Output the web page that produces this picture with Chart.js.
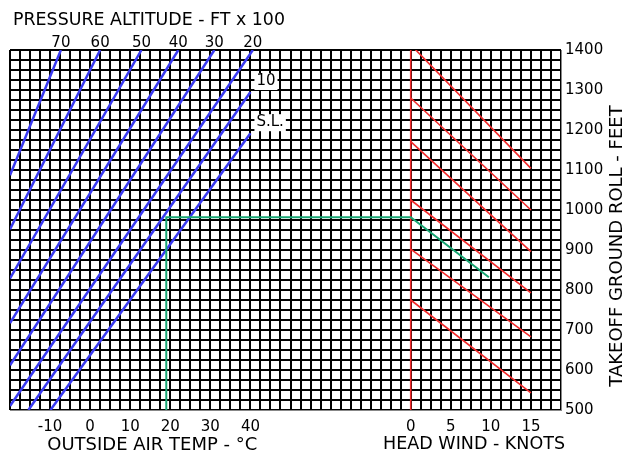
<!DOCTYPE html>
<html>
<head>
<meta charset="utf-8">
<script src="https://cdn.jsdelivr.net/npm/chart.js@4.4.1/dist/chart.umd.min.js"></script>
<style>
  html, body { margin: 0; padding: 0; background: #fff; }
</style>
</head>
<body>
<canvas id="chart" width="625" height="453"></canvas>
<script>
// temperature scale (deg C) shares the x axis with the head wind scale (knots)
const TEMP_MIN = -20, TEMP_MAX = 117.5, TEMP_GRID = 2.5;
const TEMP_TICKS = [-10, 0, 10, 20, 30, 40];
const HW_TICKS = [0, 5, 10, 15];
const HW_ZERO_AT_TEMP = 80;
const TEMP_PER_KNOT = 2;
const ROLL_MIN = 500, ROLL_MAX = 1400, ROLL_GRID = 25;

// pressure altitude lines, ft x 100
const PA_LABELS = ['70', '60', '50', '40', '30', '20', '10', 'S.L.'];
const PA_LOW_TEMP = [-20, -20, -20, -20, -20, -20, -15.4, -9.9];
const PA_LOW_ROLL = [1087, 952, 829, 717, 612, 510, 500, 500];
const PA_HIGH_TEMP = [-7.3, 2.5, 12.8, 22, 31, 40.6, 40, 40];
const PA_HIGH_ROLL = [1400, 1400, 1400, 1400, 1400, 1400, 1295, 1192];

// head wind guide lines: ground roll at 0 kt and at 15 kt
const WIND_ROLL_0 = [1413, 1280, 1171, 1025, 902, 775];
const WIND_ROLL_15 = [1104, 1000, 896, 793, 683, 543];

// worked example
const EX_TEMP = 19;
const EX_ROLL_CALM = 982;
const EX_WIND = 9.75;
const EX_ROLL = 832;

const TOP_TITLE = 'PRESSURE ALTITUDE - FT x 100';
const TEMP_TITLE = 'OUTSIDE AIR TEMP - °C';
const HW_TITLE = 'HEAD WIND - KNOTS';
const ROLL_TITLE = 'TAKEOFF GROUND ROLL - FEET';

const FONT = 'DejaVu Sans';

let tempToKnots = t => (t - HW_ZERO_AT_TEMP) / TEMP_PER_KNOT;

let steps = function (min, max, step) {
    let out = [];
    for (let i = 0; min + i * step <= max + 1e-9; i++) out.push({value: min + i * step});
    return out;
};

let bottomLabel = function (v) {
    if (TEMP_TICKS.includes(v)) return String(v);
    let kt = tempToKnots(v);
    if (HW_TICKS.includes(kt)) return String(kt);
    return '';
};

let datasets = [];

// example path first so it sits on top
datasets.push({
    xAxisID: 'hw',
    data: [
        {x: tempToKnots(EX_TEMP), y: ROLL_MIN},
        {x: tempToKnots(EX_TEMP), y: EX_ROLL_CALM},
        {x: 0, y: EX_ROLL_CALM},
        {x: EX_WIND, y: EX_ROLL}
    ],
    borderColor: '#17a673',
    borderWidth: 2
});

PA_LABELS.forEach((name, i) => {
    datasets.push({
        label: name,
        xAxisID: 'x',
        data: [{x: PA_LOW_TEMP[i], y: PA_LOW_ROLL[i]}, {x: PA_HIGH_TEMP[i], y: PA_HIGH_ROLL[i]}],
        borderColor: '#3a3af2',
        borderWidth: 2.5
    });
});

WIND_ROLL_0.forEach((r0, i) => {
    datasets.push({
        xAxisID: 'hw',
        data: [{x: 0, y: r0}, {x: 15, y: WIND_ROLL_15[i]}],
        borderColor: '#f42a2a',
        borderWidth: 1.6
    });
});

datasets.push({
    xAxisID: 'hw',
    data: [{x: 0, y: ROLL_MIN}, {x: 0, y: ROLL_MAX}],
    borderColor: '#f42a2a',
    borderWidth: 1.6
});

const chartText = {
    id: 'chartText',
    afterDraw(chart) {
        const {ctx, chartArea, scales} = chart;
        ctx.save();
        ctx.fillStyle = '#000';
        ctx.textBaseline = 'middle';
        ctx.font = '18px "' + FONT + '"';
        ctx.textAlign = 'left';
        ctx.fillText(TOP_TITLE, chartArea.left + 3, 20, 272);
        ctx.textAlign = 'center';
        ctx.fillText(TEMP_TITLE, scales.x.getPixelForValue(15.5), 445, 210);
        ctx.fillText(HW_TITLE, scales.hw.getPixelForValue(7.9), 444, 182);
        ctx.save();
        ctx.translate(chartArea.right + 56, (chartArea.top + chartArea.bottom) / 2 + 16);
        ctx.rotate(-Math.PI / 2);
        ctx.fillText(ROLL_TITLE, 0, 0, 288);
        ctx.restore();

        // names of the lines that end inside the grid
        ctx.font = '15px "' + FONT + '"';
        ctx.textAlign = 'left';
        PA_LABELS.forEach((name, i) => {
            if (PA_HIGH_ROLL[i] >= ROLL_MAX) return;
            let x = scales.x.getPixelForValue(PA_HIGH_TEMP[i]) + 6;
            let y = scales.y.getPixelForValue(PA_HIGH_ROLL[i]) - 11;
            let w = ctx.measureText(name).width;
            ctx.fillStyle = '#fff';
            ctx.fillRect(x - 2, y - 8, w + 4, 17);
            ctx.fillStyle = '#000';
            ctx.fillText(name, x, y);
        });
        ctx.restore();
    }
};

new Chart(document.getElementById('chart').getContext('2d'), {
    type: 'line',
    data: {datasets: datasets},
    options: {
        responsive: false,
        animation: false,
        devicePixelRatio: 1,
        events: [],
        layout: {padding: {left: 10, right: 0, top: 0, bottom: 0}},
        elements: {point: {radius: 0}, line: {tension: 0, fill: false}},
        plugins: {legend: {display: false}, tooltip: {enabled: false}},
        scales: {
            x: {
                type: 'linear',
                position: 'bottom',
                min: TEMP_MIN,
                max: TEMP_MAX,
                afterBuildTicks: s => { s.ticks = steps(TEMP_MIN, TEMP_MAX, TEMP_GRID); },
                afterFit: s => { s.height = 43; },
                ticks: {
                    autoSkip: false,
                    maxRotation: 0,
                    padding: 8,
                    color: '#000',
                    font: {family: FONT, size: 15},
                    callback: v => bottomLabel(v)
                },
                grid: {color: '#000', lineWidth: 2, drawTicks: false},
                border: {color: '#888', width: 1}
            },
            xTop: {
                type: 'linear',
                position: 'top',
                min: TEMP_MIN,
                max: TEMP_MAX,
                afterBuildTicks: s => { s.ticks = PA_HIGH_TEMP.slice(0, 6).map(v => ({value: v})); },
                afterFit: s => { s.height = 50; },
                ticks: {
                    autoSkip: false,
                    maxRotation: 0,
                    padding: -2,
                    color: '#000',
                    font: {family: FONT, size: 15},
                    callback: (v, i) => PA_LABELS[i]
                },
                grid: {display: false, drawTicks: false},
                border: {display: false}
            },
            hw: {
                type: 'linear',
                display: false,
                min: tempToKnots(TEMP_MIN),
                max: tempToKnots(TEMP_MAX)
            },
            y: {
                type: 'linear',
                position: 'right',
                min: ROLL_MIN,
                max: ROLL_MAX,
                afterBuildTicks: s => { s.ticks = steps(ROLL_MIN, ROLL_MAX, ROLL_GRID); },
                afterFit: s => { s.width = 64; },
                ticks: {
                    autoSkip: false,
                    padding: 4,
                    color: '#000',
                    font: {family: FONT, size: 15},
                    callback: v => (v % 100 === 0 ? String(v) : '')
                },
                grid: {color: '#000', lineWidth: 2, drawTicks: false},
                border: {color: '#888', width: 1}
            }
        }
    },
    plugins: [chartText]
});
</script>
</body>
</html>
